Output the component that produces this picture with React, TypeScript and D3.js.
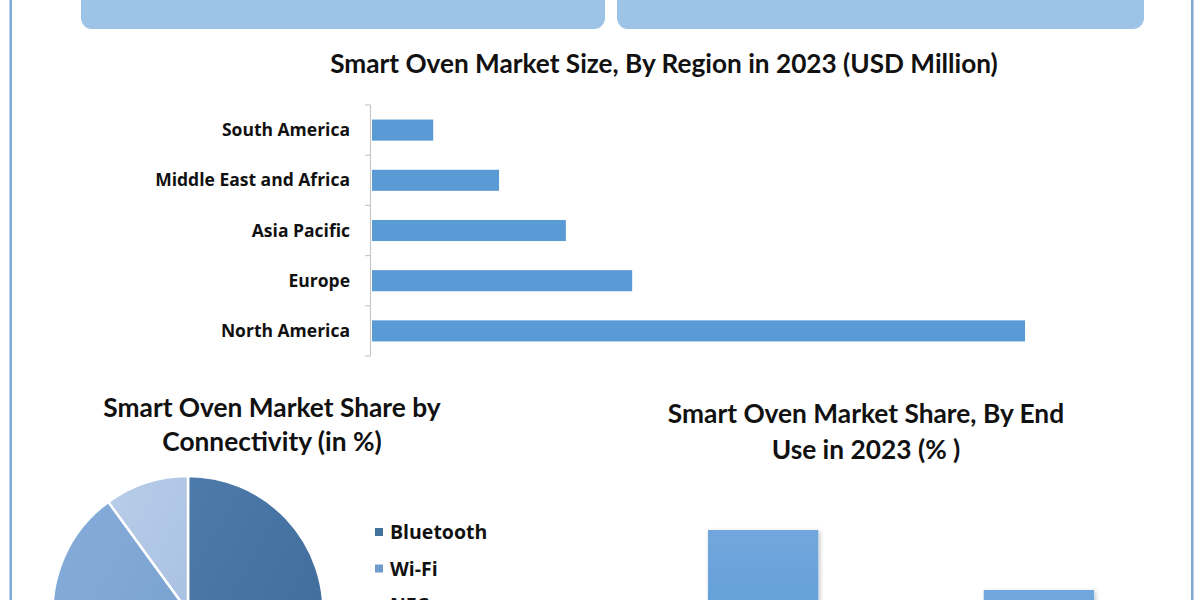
import React from "react";
import * as d3 from "d3";

const regions = ["South America", "Middle East and Africa", "Asia Pacific", "Europe", "North America"];
const regionValues = [120, 249, 380, 510, 1280];

const connectivity = ["Bluetooth", "Wi-Fi", "NFC"];
const connectivityShares = [52, 38, 10];

const endUses = ["Residential", "Commercial"];
const endUseShares = [65, 35];

const W = 1200;
const H = 600;

const sliceColors = [
  ["#4d7bab", "#3e6a97"],
  ["#86acd9", "#77a0d0"],
  ["#b9cde9", "#a9c1e2"],
];
const legendColors = ["#44729f", "#6f9bd0", "#adc5e4"];

export default function App() {
  // Region bar chart
  const y = d3.scaleBand<string>().domain(regions).range([105, 356]).paddingInner(0.58).paddingOuter(0.29);
  const x = d3.scaleLinear().domain([0, 1280]).range([372, 1025]);
  const bandEdges = d3.range(regions.length + 1).map((i) => 105 + (i * (356 - 105)) / regions.length);

  // Pie
  const pieData = d3.pie<number>().sort(null).value((d) => d)(connectivityShares);
  const arc = d3.arc<d3.PieArcDatum<number>>().innerRadius(0).outerRadius(135.5);
  const cx = 188;
  const cy = 611.5;

  // End use bars
  const bx = d3.scaleBand<string>().domain(endUses).range([625.2, 1176.8]).paddingInner(0.6).paddingOuter(0.3);
  const by = d3.scaleLinear().domain([0, 100]).range([660, 460]);

  const titleFont = "Lato, 'Open Sans', sans-serif";
  const labelFont = "'Open Sans', 'Noto Sans', sans-serif";

  return (
    <svg
      width={W}
      height={H}
      viewBox={`0 0 ${W} ${H}`}
      style={{ position: "absolute", left: 0, top: 0, background: "#ffffff" }}
    >
      <defs>
        {sliceColors.map((c, i) => (
          <linearGradient key={i} id={`slice${i}`} x1="0" y1="0" x2="1" y2="1">
            <stop offset="0%" stopColor={c[0]} />
            <stop offset="100%" stopColor={c[1]} />
          </linearGradient>
        ))}
        <linearGradient id="barGrad" x1="0" y1="0" x2="0" y2="1">
          <stop offset="0%" stopColor="#72a7dd" />
          <stop offset="100%" stopColor="#5b9bd5" />
        </linearGradient>
        <filter id="shadow" x="-20%" y="-20%" width="140%" height="140%">
          <feDropShadow dx="1.5" dy="1.5" stdDeviation="2" floodColor="#000" floodOpacity="0.25" />
        </filter>
      </defs>

      <rect x={0} y={0} width={W} height={H} fill="#ffffff" />

      {/* frame lines */}
      <rect x={9.5} y={0} width={2.5} height={H} fill="#7ea7d6" />
      <rect x={1191} y={0} width={2.5} height={H} fill="#7ea7d6" />

      {/* top boxes */}
      <rect x={81} y={-20} width={524} height={49} rx={11} fill="#9dc3e6" />
      <rect x={617} y={-20} width={527} height={49} rx={11} fill="#9dc3e6" />

      {/* Region bar chart */}
      <text x={664} y={73} textAnchor="middle" fontFamily={titleFont} fontWeight={700} fontSize={26.2} fill="#111111">
        Smart Oven Market Size, By Region in 2023 (USD Million)
      </text>
      <line x1={370.5} x2={370.5} y1={105} y2={356} stroke="#c8c8c8" strokeWidth={1.2} />
      {bandEdges.map((e, i) => (
        <line key={i} x1={365} x2={370.5} y1={e} y2={e} stroke="#c8c8c8" strokeWidth={1.2} />
      ))}
      {regions.map((r, i) => (
        <g key={r}>
          <rect x={x(0)} y={y(r)} width={x(regionValues[i]) - x(0)} height={y.bandwidth()} fill="#5b9bd5" />
          <text
            x={350}
            y={(y(r) as number) + y.bandwidth() / 2}
            dy="0.35em"
            textAnchor="end"
            fontFamily={labelFont}
            fontWeight={700}
            fontSize={17.5}
            fill="#111111"
          >
            {r}
          </text>
        </g>
      ))}

      {/* Pie chart */}
      <text textAnchor="middle" fontFamily={titleFont} fontWeight={700} fontSize={26.3} fill="#111111">
        <tspan x={272} y={417}>Smart Oven Market Share by</tspan>
        <tspan x={272} y={451}>Connectivity (in %)</tspan>
      </text>
      <g transform={`translate(${cx},${cy})`}>
        {pieData.map((d, i) => (
          <path key={i} d={arc(d) || ""} fill={`url(#slice${i})`} stroke="#ffffff" strokeWidth={2.5} />
        ))}
      </g>
      {connectivity.map((c, i) => (
        <g key={c} transform={`translate(375, ${532 + i * 36.5})`}>
          <rect x={0} y={-4} width={8} height={8} fill={legendColors[i]} />
          <text x={15} y={0} dy="0.36em" fontFamily={labelFont} fontWeight={700} fontSize={19.5} fill="#111111">
            {c}
          </text>
        </g>
      ))}

      {/* End use bar chart */}
      <text textAnchor="middle" fontFamily={titleFont} fontWeight={700} fontSize={26.3} fill="#111111">
        <tspan x={866} y={423}>Smart Oven Market Share, By End</tspan>
        <tspan x={866} y={459}>Use in 2023 (% )</tspan>
      </text>
      {endUses.map((e, i) => (
        <rect
          key={e}
          x={bx(e)}
          y={by(endUseShares[i])}
          width={bx.bandwidth()}
          height={by(0) - by(endUseShares[i])}
          fill="url(#barGrad)"
          filter="url(#shadow)"
        />
      ))}
    </svg>
  );
}
